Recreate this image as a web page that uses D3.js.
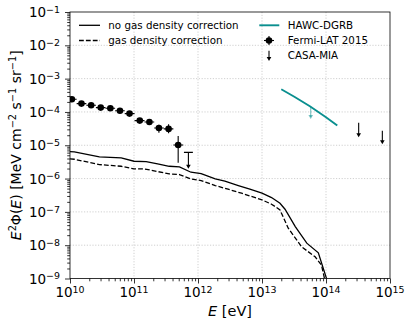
<!DOCTYPE html>
<html>
<head>
<meta charset="utf-8">
<script src="https://cdn.jsdelivr.net/npm/d3@7"></script>
<style>
  body { margin: 0; background: #fff; }
  svg { display: block; font-family: "DejaVu Sans", sans-serif; }
</style>
</head>
<body>
<svg id="chart" width="411" height="329"></svg>
<script>
'use strict';

/* model curve without the gas density correction (solid) */
const noCorrE = [1.00e10, 1.17e10, 2.88e10, 6.31e10, 1.00e11, 1.55e11, 2.34e11, 3.55e11, 5.13e11,
  7.76e11, 1.12e12, 1.86e12, 2.63e12, 4.27e12, 6.46e12, 1.00e13, 1.41e13, 1.91e13, 2.29e13,
  3.31e13, 5.01e13, 7.59e13, 1.07e14];
const noCorrFlux = [6.46e-6, 6.31e-6, 4.47e-6, 4.17e-6, 3.31e-6, 3.24e-6, 2.75e-6, 2.34e-6, 2.24e-6,
  1.55e-6, 1.41e-6, 9.77e-7, 8.32e-7, 6.17e-7, 4.79e-7, 3.63e-7, 2.69e-7, 1.82e-7, 1.20e-7,
  3.63e-8, 1.15e-8, 5.89e-9, 7.41e-10];

/* model curve with the gas density correction (dashed) */
const corrE = [1.00e10, 1.17e10, 2.88e10, 6.31e10, 1.00e11, 1.45e11, 2.34e11, 3.55e11, 5.13e11,
  7.76e11, 1.12e12, 1.86e12, 2.95e12, 4.79e12, 1.00e13, 1.41e13, 1.91e13, 2.57e13, 4.17e13,
  6.76e13, 8.51e13, 1.00e14];
const corrFlux = [3.89e-6, 3.80e-6, 2.63e-6, 2.34e-6, 1.95e-6, 1.95e-6, 1.62e-6, 1.38e-6, 1.32e-6,
  9.77e-7, 8.71e-7, 6.17e-7, 4.79e-7, 3.63e-7, 2.29e-7, 1.70e-7, 1.15e-7, 3.24e-8, 8.91e-9,
  4.47e-9, 2.51e-9, 6.3e-10];

/* Fermi-LAT 2015 points: energy, bin edges, flux and flux error range */
const fermiE = [1.07e10, 1.51e10, 2.14e10, 3.02e10, 4.27e10, 6.03e10, 8.51e10, 1.23e11, 1.74e11,
  2.45e11, 3.47e11, 4.90e11];
const fermiELo = [9.02e9, 1.27e10, 1.80e10, 2.54e10, 3.59e10, 5.07e10, 7.16e10, 1.02e11, 1.46e11,
  2.07e11, 2.92e11, 4.12e11];
const fermiEHi = [1.27e10, 1.80e10, 2.54e10, 3.59e10, 5.07e10, 7.16e10, 1.02e11, 1.46e11, 2.07e11,
  2.92e11, 4.12e11, 5.89e11];
const fermiFlux = [2.40e-4, 1.78e-4, 1.58e-4, 1.35e-4, 1.29e-4, 1.09e-4, 8.9e-5, 5.5e-5, 5.0e-5,
  3.3e-5, 3.1e-5, 1.02e-5];
const fermiFluxLo = [2.24e-4, 1.66e-4, 1.47e-4, 1.25e-4, 1.19e-4, 1.00e-4, 8.1e-5, 4.8e-5, 4.4e-5,
  2.38e-5, 2.29e-5, 2.99e-6];
const fermiFluxHi = [2.57e-4, 1.90e-4, 1.69e-4, 1.45e-4, 1.39e-4, 1.18e-4, 9.7e-5, 6.2e-5, 5.7e-5,
  4.14e-5, 4.26e-5, 1.89e-5];

/* Fermi-LAT upper limit (last bin) */
const fermiUlE = [7.08e11];
const fermiUlELo = [6.03e11];
const fermiUlEHi = [8.32e11];
const fermiUl = [6.1e-6];
const fermiUlEnd = [1.98e-6];

/* HAWC-DGRB */
const hawcE = [2.0e13, 3.2e13, 5.6e13, 1.0e14, 1.5e14];
const hawcFlux = [4.8e-4, 2.85e-4, 1.48e-4, 6.9e-5, 3.9e-5];
const hawcUlE = [5.77e13];
const hawcUl = [1.45e-4];
const hawcUlEnd = [6.1e-5];

/* CASA-MIA upper limits */
const casaE = [3.24e14, 7.59e14];
const casaUl = [4.75e-5, 2.74e-5];
const casaUlEnd = [1.73e-5, 1.07e-5];

/* axis ticks */
const xDecades = [10, 11, 12, 13, 14, 15];
const yDecades = [-9, -8, -7, -6, -5, -4, -3, -2, -1];

const teal = '#0a8f8f';

/* plot area in pixels */
const area = {left: 70, right: 390, top: 12, bottom: 278.5};

const svg = d3.select('#chart');

const x = d3.scaleLog().domain([1e10, 1e15]).range([area.left, area.right]);
const y = d3.scaleLog().domain([1e-9, 1e-1]).range([area.bottom, area.top]);

svg.append('defs').append('clipPath').attr('id', 'clip')
  .append('rect')
  .attr('x', area.left).attr('y', area.top)
  .attr('width', area.right - area.left).attr('height', area.bottom - area.top);

/* grid */
const grid = svg.append('g').attr('id', 'grid')
  .attr('stroke', '#c4c4c4').attr('stroke-width', 0.8).attr('stroke-dasharray', '1.2,1.6');
grid.selectAll('line.gx').data(xDecades.slice(1, -1)).enter().append('line')
  .attr('x1', d => x(Math.pow(10, d))).attr('x2', d => x(Math.pow(10, d)))
  .attr('y1', area.top).attr('y2', area.bottom);
grid.selectAll('line.gy').data(yDecades.slice(1, -1)).enter().append('line')
  .attr('y1', d => y(Math.pow(10, d))).attr('y2', d => y(Math.pow(10, d)))
  .attr('x1', area.left).attr('x2', area.right);

/* minor tick values */
const minorOf = decs => {
  let out = [];
  decs.slice(0, -1).forEach(d => {
    for (let k = 2; k < 10; ++k) out.push(k * Math.pow(10, d));
  });
  return out;
};

/* x axis */
const xMajor = xDecades.map(d => Math.pow(10, d));
svg.append('g').attr('id', 'bottom-axis')
  .attr('transform', 'translate(0,' + area.bottom + ')')
  .call(d3.axisBottom(x).tickValues(xMajor).tickSize(5).tickFormat(''))
  .call(g => g.select('.domain').remove());
svg.append('g').attr('id', 'bottom-axis-minor')
  .attr('transform', 'translate(0,' + area.bottom + ')')
  .call(d3.axisBottom(x).tickValues(minorOf(xDecades)).tickSize(2.8).tickFormat(''))
  .call(g => g.select('.domain').remove());

/* y axis */
const yMajor = yDecades.map(d => Math.pow(10, d));
svg.append('g').attr('id', 'left-axis')
  .attr('transform', 'translate(' + area.left + ',0)')
  .call(d3.axisLeft(y).tickValues(yMajor).tickSize(5).tickFormat(''))
  .call(g => g.select('.domain').remove());
svg.append('g').attr('id', 'left-axis-minor')
  .attr('transform', 'translate(' + area.left + ',0)')
  .call(d3.axisLeft(y).tickValues(minorOf(yDecades)).tickSize(2.8).tickFormat(''))
  .call(g => g.select('.domain').remove());

svg.selectAll('.tick line').attr('stroke', '#000').attr('stroke-width', 0.8);

/* tick labels as 10^n */
const power = (sel, n) => {
  sel.append('tspan').text('10');
  sel.append('tspan').attr('dy', '-0.45em').attr('font-size', '0.7em')
    .text(String(n).replace('-', '\u2212'));
};
svg.append('g').attr('id', 'x-labels').selectAll('text').data(xDecades).enter().append('text')
  .attr('x', d => x(Math.pow(10, d))).attr('y', 297)
  .attr('text-anchor', 'middle').attr('font-size', 13.5)
  .each(function(d){ power(d3.select(this), d); });
svg.append('g').attr('id', 'y-labels').selectAll('text').data(yDecades).enter().append('text')
  .attr('x', 60).attr('y', d => y(Math.pow(10, d)) + 5)
  .attr('text-anchor', 'end').attr('font-size', 13.5)
  .each(function(d){ power(d3.select(this), d); });

/* axis titles */
const xt = svg.append('text').attr('x', (area.left + area.right) / 2).attr('y', 316)
  .attr('text-anchor', 'middle').attr('font-size', 14.5);
xt.append('tspan').attr('font-style', 'italic').text('E');
xt.append('tspan').text(' [eV]');

const yt = svg.append('text').attr('transform', 'translate(21,' + ((area.top + area.bottom) / 2) + ') rotate(-90)')
  .attr('text-anchor', 'middle').attr('font-size', 14);
yt.append('tspan').attr('font-style', 'italic').text('E');
yt.append('tspan').attr('font-size', '0.7em').attr('dy', '-0.55em').text('2');
yt.append('tspan').attr('dy', '0.385em').text('\u03a6(');
yt.append('tspan').attr('font-style', 'italic').text('E');
yt.append('tspan').text(') [MeV cm');
yt.append('tspan').attr('font-size', '0.7em').attr('dy', '-0.55em').text('\u22122');
yt.append('tspan').attr('dy', '0.385em').text(' s');
yt.append('tspan').attr('font-size', '0.7em').attr('dy', '-0.55em').text('\u22121');
yt.append('tspan').attr('dy', '0.385em').text(' sr');
yt.append('tspan').attr('font-size', '0.7em').attr('dy', '-0.55em').text('\u22121');
yt.append('tspan').attr('dy', '0.385em').text(']');

/* data layer */
const plot = svg.append('g').attr('clip-path', 'url(#clip)');

const line = d3.line().x(d => x(d[0])).y(d => y(d[1]));

plot.append('path').datum(d3.zip(noCorrE, noCorrFlux))
  .attr('d', line).attr('fill', 'none').attr('stroke', '#000').attr('stroke-width', 1.3);
plot.append('path').datum(d3.zip(corrE, corrFlux))
  .attr('d', line).attr('fill', 'none').attr('stroke', '#000').attr('stroke-width', 1.3)
  .attr('stroke-dasharray', '4.8,2.1');

plot.append('path').datum(d3.zip(hawcE, hawcFlux))
  .attr('d', line).attr('fill', 'none').attr('stroke', teal).attr('stroke-width', 1.9);

/* downward arrow for upper limits */
const arrow = (g, px, yTop, yEnd, color, opacity) => {
  g.append('line').attr('x1', px).attr('x2', px).attr('y1', yTop).attr('y2', yEnd - 2)
    .attr('stroke', color).attr('stroke-width', 1.1).attr('stroke-opacity', opacity);
  g.append('path')
    .attr('d', 'M' + (px - 2.3) + ',' + (yEnd - 4) + 'L' + (px + 2.3) + ',' + (yEnd - 4) + 'L' + px + ',' + yEnd + 'Z')
    .attr('fill', color).attr('fill-opacity', opacity);
};

hawcUlE.forEach((e, i) => arrow(plot, x(e), y(hawcUl[i]), y(hawcUlEnd[i]), teal, 0.55));
casaE.forEach((e, i) => arrow(plot, x(e), y(casaUl[i]), y(casaUlEnd[i]), '#000', 1));

/* Fermi upper limit */
fermiUlE.forEach((e, i) => {
  plot.append('line').attr('x1', x(fermiUlELo[i])).attr('x2', x(fermiUlEHi[i]))
    .attr('y1', y(fermiUl[i])).attr('y2', y(fermiUl[i]))
    .attr('stroke', '#000').attr('stroke-width', 1.1);
  arrow(plot, x(e), y(fermiUl[i]), y(fermiUlEnd[i]), '#000', 1);
});

/* Fermi data points */
const fermi = plot.append('g').attr('id', 'fermi');
fermiE.forEach((e, i) => {
  fermi.append('line').attr('x1', x(fermiELo[i])).attr('x2', x(fermiEHi[i]))
    .attr('y1', y(fermiFlux[i])).attr('y2', y(fermiFlux[i]))
    .attr('stroke', '#000').attr('stroke-width', 1.1);
  fermi.append('line').attr('x1', x(e)).attr('x2', x(e))
    .attr('y1', y(fermiFluxLo[i])).attr('y2', y(fermiFluxHi[i]))
    .attr('stroke', '#000').attr('stroke-width', 1.1);
  fermi.append('circle').attr('cx', x(e)).attr('cy', y(fermiFlux[i])).attr('r', 3.3)
    .attr('fill', '#000');
});

/* spines */
svg.append('rect')
  .attr('x', area.left).attr('y', area.top)
  .attr('width', area.right - area.left).attr('height', area.bottom - area.top)
  .attr('fill', 'none').attr('stroke', '#000').attr('stroke-width', 0.8);

/* legend */
const legend = svg.append('g').attr('id', 'legend').attr('font-size', 10.3);
legend.append('line').attr('x1', 79).attr('x2', 100).attr('y1', 25.3).attr('y2', 25.3)
  .attr('stroke', '#000').attr('stroke-width', 1.3);
legend.append('line').attr('x1', 79).attr('x2', 100).attr('y1', 40.5).attr('y2', 40.5)
  .attr('stroke', '#000').attr('stroke-width', 1.3).attr('stroke-dasharray', '4.8,2.1');
legend.append('line').attr('x1', 259.3).attr('x2', 279.3).attr('y1', 25.3).attr('y2', 25.3)
  .attr('stroke', teal).attr('stroke-width', 1.9);
legend.append('line').attr('x1', 264).attr('x2', 274).attr('y1', 40.5).attr('y2', 40.5)
  .attr('stroke', '#000').attr('stroke-width', 1.1);
legend.append('line').attr('x1', 269).attr('x2', 269).attr('y1', 36).attr('y2', 45)
  .attr('stroke', '#000').attr('stroke-width', 1.1);
legend.append('circle').attr('cx', 269).attr('cy', 40.5).attr('r', 3.3).attr('fill', '#000');
arrow(legend, 269, 50.7, 61, '#000', 1);

const labels = [
  {x: 108.3, y: 25.3, t: 'no gas density correction'},
  {x: 108.3, y: 40.5, t: 'gas density correction'},
  {x: 287.7, y: 25.3, t: 'HAWC-DGRB'},
  {x: 287.7, y: 40.5, t: 'Fermi-LAT 2015'},
  {x: 287.7, y: 55.7, t: 'CASA-MIA'}
];
legend.selectAll('text').data(labels).enter().append('text')
  .attr('x', d => d.x).attr('y', d => d.y).attr('dy', '0.36em').text(d => d.t);
</script>
</body>
</html>
